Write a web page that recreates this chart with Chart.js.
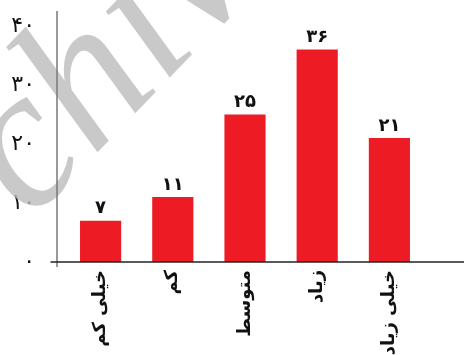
<!DOCTYPE html>
<html>
<head>
<meta charset="utf-8">
<script src="https://cdn.jsdelivr.net/npm/chart.js@4"></script>
<style>
  html, body { margin: 0; padding: 0; background: #fff; }
  #wrap { width: 464px; height: 355px; }
</style>
</head>
<body>
<div id="wrap"><canvas id="barChart" width="464" height="355"></canvas></div>
<script>
const categories = ['خیلی کم', 'کم', 'متوسط', 'زیاد', 'خیلی زیاد'];
const counts = [7, 11, 25, 36, 21];
const yTicks = [0, 10, 20, 30, 40];

const faDigits = '۰۱۲۳۴۵۶۷۸۹';
function toFa(n) {
  return String(n).replace(/\d/g, d => faDigits[d]);
}

// value labels, watermark and the two axis lines
const extras = {
  id: 'extras',
  beforeDatasetsDraw(chart) {
    const ctx = chart.ctx;
    ctx.save();
    ctx.font = 'italic 200px "Liberation Serif"';
    ctx.fillStyle = 'rgba(187,187,187,0.8)';
    ctx.strokeStyle = 'rgba(187,187,187,0.8)';
    ctx.lineWidth = 3;
    ctx.lineJoin = 'round';
    ctx.translate(36, 216);
    ctx.rotate(-46 * Math.PI / 180);
    const off = -ctx.measureText('Ar').width;
    ctx.fillText('Archive', off, 0);
    ctx.restore();
  },
  afterDraw(chart) {
    const ctx = chart.ctx;
    const area = chart.chartArea;
    const yZero = chart.scales.y.getPixelForValue(0);

    ctx.save();
    ctx.strokeStyle = '#777';
    ctx.lineWidth = 1.5;
    ctx.beginPath();
    ctx.moveTo(area.left - 7.5, 11);
    ctx.lineTo(area.left - 7.5, yZero + 5);
    ctx.stroke();

    ctx.strokeStyle = '#222';
    ctx.beginPath();
    ctx.moveTo(area.left - 14, yZero);
    ctx.lineTo(chart.width, yZero);
    ctx.stroke();

    ctx.fillStyle = '#111';
    ctx.font = 'bold 18px "DejaVu Sans"';
    ctx.textAlign = 'center';
    ctx.textBaseline = 'bottom';
    chart.getDatasetMeta(0).data.forEach((bar, i) => {
      ctx.fillText(toFa(counts[i]), bar.x, bar.y - 3);
    });
    ctx.restore();
  }
};

new Chart(document.getElementById('barChart'), {
  type: 'bar',
  data: {
    labels: categories,
    datasets: [{
      data: counts,
      backgroundColor: '#ed1c24',
      borderWidth: 0,
      barPercentage: 0.57,
      categoryPercentage: 1
    }]
  },
  options: {
    responsive: false,
    animation: false,
    layout: { padding: { top: 26, right: 38.5, left: 0, bottom: 0 } },
    plugins: { legend: { display: false }, tooltip: { enabled: false } },
    scales: {
      x: {
        grid: { display: false, drawTicks: false },
        border: { display: false },
        afterFit(scale) {
          scale.height = 93;
          scale.paddingLeft = 0;
          scale.paddingRight = 0;
        },
        ticks: {
          minRotation: 90,
          maxRotation: 90,
          padding: 8,
          color: '#111',
          font: { family: 'DejaVu Sans', size: 18, weight: 'bold' }
        }
      },
      y: {
        min: 0,
        max: 40,
        grid: { display: false, drawTicks: false },
        border: { display: false },
        afterFit(scale) {
          scale.width = 64.5;
          scale.paddingTop = 0;
          scale.paddingBottom = 0;
        },
        afterBuildTicks(scale) { scale.ticks = yTicks.map(v => ({ value: v })); },
        ticks: {
          padding: 29.5,
          color: '#111',
          font: { family: 'DejaVu Sans', size: 22 },
          callback: v => toFa(v)
        }
      }
    }
  },
  plugins: [extras]
});
</script>
</body>
</html>
